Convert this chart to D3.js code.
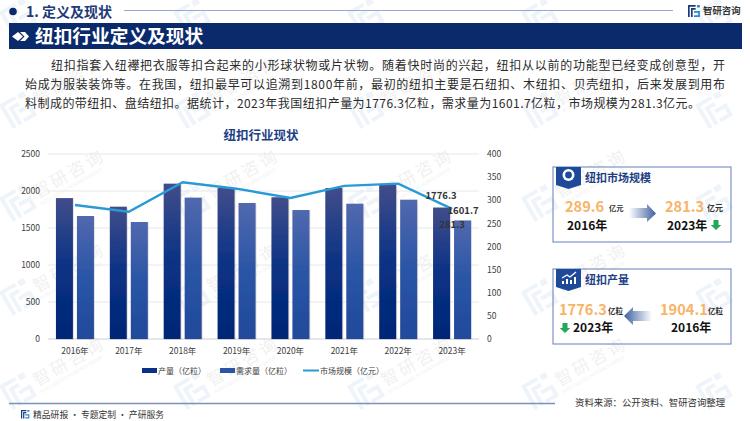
<!DOCTYPE html>
<html>
<head>
<meta charset="utf-8">
<script src="https://cdn.jsdelivr.net/npm/d3@7"></script>
<style>
  html, body { margin: 0; padding: 0; background: #fff; }
  svg { display: block; }
  text { font-family: "Noto Sans CJK SC", "Noto Sans", sans-serif; }
</style>
</head>
<body>
<svg id="chart" width="750" height="421"></svg>
<script>
// chart values
const years = ["2016年", "2017年", "2018年", "2019年", "2020年", "2021年", "2022年", "2023年"];
const output = [1904.1, 1788, 2099, 2040, 1915, 2040, 2081, 1776.3];
const demand = [1662, 1581, 1910, 1838, 1743, 1828, 1882, 1601.7];
const market = [289.6, 275, 339, 325, 305, 331, 336, 281.3];
const leftTicks = [0, 500, 1000, 1500, 2000, 2500];
const rightTicks = [0, 50, 100, 150, 200, 250, 300, 350, 400];
const seriesNames = ["产量（亿粒）", "需求量（亿粒）", "市场规模（亿元）"];

const bodyLines = [
  "纽扣指套入纽襻把衣服等扣合起来的小形球状物或片状物。随着快时尚的兴起，纽扣从以前的功能型已经变成创意型，开",
  "始成为服装装饰等。在我国，纽扣最早可以追溯到1800年前，最初的纽扣主要是石纽扣、木纽扣、贝壳纽扣，后来发展到用布",
  "料制成的带纽扣、盘结纽扣。据统计，2023年我国纽扣产量为1776.3亿粒，需求量为1601.7亿粒，市场规模为281.3亿元。"
];

const svg = d3.select("#chart");
const navy = "#0b2a6b";

const defs = svg.append("defs");
const addGradient = (id, stops) => {
  const g = defs.append("linearGradient").attr("id", id)
    .attr("x1", 0).attr("y1", 0).attr("x2", 0).attr("y2", 1);
  stops.forEach(s => g.append("stop").attr("offset", s[0]).attr("stop-color", s[1]));
};
addGradient("gradOutput", [[0, "#414d8b"], [0.5, "#0a3284"], [1, "#002676"]]);
addGradient("gradDemand", [[0, "#5168ae"], [0.5, "#2a55a6"], [1, "#204a9b"]]);
const arrowGrad = defs.append("linearGradient").attr("id", "gradArrow");
arrowGrad.append("stop").attr("offset", 0).attr("stop-color", "#fff");
arrowGrad.append("stop").attr("offset", 1).attr("stop-color", "#3f5f9f");
const arrowGradBack = defs.append("linearGradient").attr("id", "gradArrowBack");
arrowGradBack.append("stop").attr("offset", 0).attr("stop-color", "#3f5f9f");
arrowGradBack.append("stop").attr("offset", 1).attr("stop-color", "#fff");

// logo mark, two bracket shapes, 14 units square
const drawLogo = (g, x, y, s, c1, c2) => {
  const logo = g.append("g").attr("transform", `translate(${x},${y}) scale(${s})`);
  logo.append("path").attr("fill", c1).attr("d", "M0 0H9V2H2V14H0ZM3.5 3.5H9V5.5H5.5V14H3.5Z");
  logo.append("path").attr("fill", c2).attr("d", "M10.5 0H14V3H10.5ZM7 7H14V14H7V12H12V9H7Z");
};

// watermark tiles
const mark = svg.append("g");
const tileX = [18, 192, 366, 540, 714];
const tileY = [17, 110, 203, 297, 391];
tileX.forEach(tx => {
  tileY.forEach(ty => {
    const t = mark.append("g").attr("transform", `translate(${tx},${ty}) rotate(-30)`);
    drawLogo(t, -14, -14, 2, "#eef4f9", "#eef4f9");
    // text only where the whole word stays on the page
    if (tx < 700 && ty > 50) {
      t.append("text").attr("x", 19).attr("y", 6).attr("font-size", 17)
        .attr("letter-spacing", 3).attr("fill", "#f1f1f1").text("智研咨询");
      t.append("text").attr("x", 19).attr("y", 14).attr("font-size", 4.5)
        .attr("fill", "#f1f1f1").text("INTELLIGENCE RESEARCH GROUP");
    }
  });
});

// header
svg.append("circle").attr("cx", 13).attr("cy", 11.5).attr("r", 3.8).attr("fill", navy);
svg.append("text").attr("x", 26).attr("y", 17).attr("font-size", 14).attr("font-weight", 700)
  .attr("fill", "#1d3a7a").text("1. 定义及现状");
svg.append("line").attr("x1", 124).attr("x2", 673).attr("y1", 10.5).attr("y2", 10.5)
  .attr("stroke", "#9aa8cf").attr("stroke-width", 1.2);
drawLogo(svg, 688, 5, 0.85, "#1d3a7a", "#2a8bd0");
svg.append("text").attr("x", 703).attr("y", 14).attr("font-size", 9.4).attr("font-weight", 700)
  .attr("fill", "#333").text("智研咨询");

svg.append("rect").attr("x", 9).attr("y", 23).attr("width", 733).attr("height", 26).attr("fill", navy);
svg.append("path").attr("fill", "#fff").attr("d", "M12 36.5L18 32L23 36.5L18 41Z");
svg.append("path").attr("fill", "#fff").attr("d", "M20 32H25L29 36.5L25 41H20L24.5 36.5Z");
svg.append("text").attr("x", 35).attr("y", 43).attr("font-size", 18.7).attr("font-weight", 700)
  .attr("fill", "#fff").text("纽扣行业定义及现状");

// paragraph
const lineStarts = [51, 25, 25];
const lineWidths = [674, 700, 675];
svg.append("g").selectAll("text").data(bodyLines).join("text")
  .attr("x", (d, i) => lineStarts[i])
  .attr("y", (d, i) => 70 + i * 19)
  .attr("font-size", 12)
  .attr("fill", "#2b2b2b")
  .attr("textLength", (d, i) => lineWidths[i])
  .attr("lengthAdjust", "spacing")
  .text(d => d);

// chart
svg.append("text").attr("x", 261).attr("y", 139.5).attr("text-anchor", "middle")
  .attr("font-size", 12.5).attr("font-weight", 700).attr("fill", "#1d3f86").text("纽扣行业现状");

const x = d3.scaleBand().domain(years).range([48, 479]);
const yLeft = d3.scaleLinear().domain([0, 2500]).range([339, 154]);
const yRight = d3.scaleLinear().domain([0, 400]).range([339, 154]);
const barW = 17;

svg.append("g").selectAll("line").data(leftTicks).join("line")
  .attr("x1", 48).attr("x2", 479)
  .attr("y1", d => yLeft(d)).attr("y2", d => yLeft(d))
  .attr("stroke", d => d === 0 ? "#c9ced8" : "#e6e8ec").attr("stroke-width", 1);

const axisLeft = svg.append("g").attr("transform", "translate(40,0)")
  .call(d3.axisLeft(yLeft).tickValues(leftTicks).tickFormat(d3.format("d")).tickSize(0).tickPadding(0));
const axisRight = svg.append("g").attr("transform", "translate(487,0)")
  .call(d3.axisRight(yRight).tickValues(rightTicks).tickFormat(d3.format("d")).tickSize(0).tickPadding(0));
const axisBottom = svg.append("g").attr("transform", "translate(0,348)")
  .call(d3.axisBottom(x).tickSize(0).tickPadding(0));
[axisLeft, axisRight, axisBottom].forEach(a => {
  a.select(".domain").remove();
  a.selectAll("text").attr("font-size", 8.5).attr("fill", "#404040")
    .style("font-family", '"Noto Sans CJK SC", sans-serif');
});

const barShadow = defs.append("filter").attr("id", "barShadow");
barShadow.append("feDropShadow").attr("dx", 0.5).attr("dy", 0.5).attr("stdDeviation", 0.6)
  .attr("flood-color", "#888").attr("flood-opacity", 0.5);

svg.append("g").selectAll("rect").data(output).join("rect")
  .attr("x", (d, i) => x(years[i]) + x.bandwidth() / 2 - barW - 2)
  .attr("y", d => yLeft(d))
  .attr("width", barW)
  .attr("height", d => yLeft(0) - yLeft(d))
  .attr("fill", "url(#gradOutput)").attr("filter", "url(#barShadow)");
svg.append("g").selectAll("rect").data(demand).join("rect")
  .attr("x", (d, i) => x(years[i]) + x.bandwidth() / 2 + 2)
  .attr("y", d => yLeft(d))
  .attr("width", barW)
  .attr("height", d => yLeft(0) - yLeft(d))
  .attr("fill", "url(#gradDemand)").attr("filter", "url(#barShadow)");

const line = d3.line()
  .x((d, i) => x(years[i]) + x.bandwidth() / 2)
  .y(d => yRight(d));
svg.append("path").datum(market).attr("d", line).attr("fill", "none")
  .attr("stroke", "#2a9ad6").attr("stroke-width", 2.4);

// last year labels
const last = years.length - 1;
const lastX = x(years[last]) + x.bandwidth() / 2;
const endLabels = [
  { text: output[last], dx: -11, y: yLeft(output[last]) - 12 },
  { text: demand[last], dx: 11, y: yLeft(demand[last]) - 10 },
  { text: market[last], dx: 0, y: yRight(market[last]) + 16 }
];
svg.append("g").selectAll("text").data(endLabels).join("text")
  .attr("x", d => lastX + d.dx)
  .attr("y", d => d.y)
  .attr("dy", "0.35em")
  .attr("text-anchor", "middle")
  .attr("font-size", 9.5).attr("font-weight", 700).attr("fill", "#333")
  .text(d => d.text);

// legend
const legend = svg.append("g");
const legendX = [142, 220, 303];
[0, 1].forEach(i => {
  legend.append("rect").attr("x", legendX[i]).attr("y", 368).attr("width", 15).attr("height", 5)
    .attr("fill", i === 0 ? "#0a3284" : "#2a55a6");
});
legend.append("line").attr("x1", legendX[2]).attr("x2", legendX[2] + 16).attr("y1", 370.5).attr("y2", 370.5)
  .attr("stroke", "#2a9ad6").attr("stroke-width", 2);
legend.selectAll("text").data(seriesNames).join("text")
  .attr("x", (d, i) => legendX[i] + (i === 2 ? 17 : 16))
  .attr("y", 374)
  .attr("font-size", 8).attr("fill", "#404040")
  .text(d => d);

// side cards
const drawCard = (top, h, title, iconType) => {
  const g = svg.append("g");
  g.append("rect").attr("x", 553).attr("y", top).attr("width", 178).attr("height", h)
    .attr("fill", "none").attr("stroke", "#6f8ac2").attr("stroke-width", 1.1);
  g.append("path").attr("fill", "#1f4a9a")
    .attr("d", `M556 ${top}H581V${top + 18}L568.5 ${top + 22}L556 ${top + 18}Z`);
  if (iconType === 0) {
    g.append("circle").attr("cx", 568.5).attr("cy", top + 8).attr("r", 6).attr("fill", "#fff");
    g.append("circle").attr("cx", 568.5).attr("cy", top + 8).attr("r", 3.4).attr("fill", "#1f4a9a");
  } else {
    g.append("path").attr("fill", "none").attr("stroke", "#fff").attr("stroke-width", 1.4)
      .attr("d", `M562 ${top + 9}L567 ${top + 6}L570 ${top + 8}L576 ${top + 3}`);
    g.append("path").attr("fill", "#fff")
      .attr("d", `M562 ${top + 15}h2v-3h-2zM566 ${top + 15}h2v-5h-2zM570 ${top + 15}h2v-4h-2zM574 ${top + 15}h2v-7h-2z`);
  }
  g.append("text").attr("x", 585).attr("y", top + 15).attr("font-size", 11).attr("font-weight", 700)
    .attr("fill", "#1d3f86").text(title);
};
const bigNumber = (xPos, yPos, value, unit, unitX, unitSize) => {
  svg.append("text").attr("x", xPos).attr("y", yPos).attr("font-size", 14.6).attr("font-weight", 700)
    .attr("fill", "#f7b469").text(value);
  svg.append("text").attr("x", unitX).attr("y", yPos - 1).attr("font-size", unitSize).attr("font-weight", 700)
    .attr("fill", "#333").text(unit);
};
const yearLabel = (xPos, yPos, t) => {
  svg.append("text").attr("x", xPos).attr("y", yPos).attr("font-size", 12).attr("font-weight", 700)
    .attr("fill", "#111").text(t);
};
const downArrow = (cx, cy) => {
  svg.append("path").attr("fill", "#22a857")
    .attr("d", `M${cx - 2.5} ${cy - 5}h5v5h2.8L${cx} ${cy + 5}L${cx - 5.3} ${cy}h2.8Z`);
};

drawCard(167, 75, "纽扣市场规模", 0);
bigNumber(565, 212, market[0], "亿元", 609, 7.3);
yearLabel(567, 230, "2016年");
svg.append("path").attr("fill", "url(#gradArrow)")
  .attr("d", "M629 208H647V204L656 213.5L647 222V218H629Z");
bigNumber(665, 212, market[7], "亿元", 707, 8);
yearLabel(667, 230, "2023年");
downArrow(716, 225);

drawCard(269, 75, "纽扣产量", 1);
bigNumber(559, 315, output[7], "亿粒", 608, 7.5);
downArrow(565, 328);
yearLabel(573, 332, "2023年");
svg.append("path").attr("fill", "url(#gradArrowBack)")
  .attr("d", "M652 311H633V307L624 316L633 325V321H652Z");
bigNumber(660, 315, output[0], "亿粒", 708, 7.5);
yearLabel(671, 332, "2016年");

// footer
svg.append("line").attr("x1", 9).attr("x2", 555).attr("y1", 403.5).attr("y2", 403.5)
  .attr("stroke", "#7c8fbd").attr("stroke-width", 1.3);
drawLogo(svg, 21, 410, 0.6, "#1d3a7a", "#2a8bd0");
svg.append("text").attr("x", 33).attr("y", 417.5).attr("font-size", 8.8).attr("fill", "#333").text("精品研报 · 专题定制 · 产研服务");
svg.append("text").attr("x", 575).attr("y", 406).attr("font-size", 9.4).attr("fill", "#333").text("资料来源：公开资料、智研咨询整理");
</script>
</body>
</html>
